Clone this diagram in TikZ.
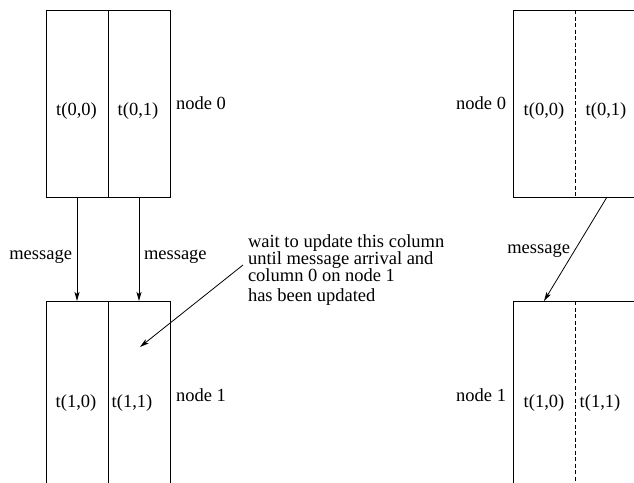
\documentclass[tikz,border=0pt]{standalone}
\usepackage{fontspec}
\setmainfont{Liberation Serif}
\usetikzlibrary{arrows.meta}

\tikzset{
  every node/.style={inner sep=0pt, outer sep=0pt},
  txt/.style={font=\fontsize{18.5}{20}\selectfont},
  blockbox/.style={draw, line width=0.9pt, rectangle, minimum width=124pt},
  topbox/.style={blockbox, minimum height=187pt},
  lowbox/.style={blockbox, minimum height=219pt},
  divider/.style={line width=0.9pt},
  dashdiv/.style={line width=0.9pt, dash pattern=on 4pt off 2.5pt},
  msg/.style={line width=0.8pt, -{Stealth[length=9pt, width=5pt, inset=2pt]}}
}

\begin{document}
\begin{tikzpicture}[x=1pt, y=-1pt]
  \useasboundingbox (0,0) rectangle (634,482);
  \clip (0,0) rectangle (634,482);

  % ---- left: two columns separated by a solid line ----
  \node[topbox] (L0) at (108,103.5) {};
  \node[lowbox] (L1) at (108,410.5) {};
  \draw[divider] (L0.north) -- (L0.south);
  \draw[divider] (L1.north) -- (L1.south);

  \node[txt, anchor=base] (lt00) at (76.5,115) {t(0,0)};
  \node[txt, anchor=base] (lt01) at (138,115) {t(0,1)};
  \node[txt, anchor=base] (lt10) at (76,407) {t(1,0)};
  \node[txt, anchor=base] (lt11) at (132,407) {t(1,1)};
  \node[txt, anchor=base west] (ln0) at (176,109) {node 0};
  \node[txt, anchor=base west] (ln1) at (176,401) {node 1};

  \draw[msg] ([xshift=-31pt]L0.south) -- ([xshift=-31pt]L1.north);
  \draw[msg] ([xshift=31pt]L0.south) -- ([xshift=31pt]L1.north);
  \node[txt, anchor=base east] (lm0) at (72,259) {message};
  \node[txt, anchor=base west] (lm1) at (144,259) {message};

  % ---- note pointing into column 1 of node 1 ----
  \node[txt, anchor=base west] (note1) at (248,247.5) {wait to update this column};
  \node[txt, anchor=base west] (note2) at (248,264.5) {until message arrival and};
  \node[txt, anchor=base west] (note3) at (248,281.5) {column 0 on node 1};
  \node[txt, anchor=base west] (note4) at (248,301) {has been updated};
  \coordinate (notefrom) at (243,265);
  \coordinate (pin) at (140,347);
  \draw[msg] (notefrom) -- (pin);

  % ---- right: two columns separated by a dashed line ----
  \node[topbox] (R0) at (575,103.5) {};
  \node[lowbox] (R1) at (575,410.5) {};
  \draw[dashdiv] (R0.north) -- (R0.south);
  \draw[dashdiv] (R1.north) -- (R1.south);

  \node[txt, anchor=base] (rt00) at (544,115) {t(0,0)};
  \node[txt, anchor=base] (rt01) at (606,115) {t(0,1)};
  \node[txt, anchor=base] (rt10) at (544,407) {t(1,0)};
  \node[txt, anchor=base] (rt11) at (600,407) {t(1,1)};
  \node[txt, anchor=base east] (rn0) at (506,109) {node 0};
  \node[txt, anchor=base east] (rn1) at (506,401) {node 1};

  \draw[msg] ([xshift=32pt]R0.south) -- ([xshift=-31pt]R1.north);
  \node[txt, anchor=base east] (rm0) at (570,253) {message};
\end{tikzpicture}
\end{document}
